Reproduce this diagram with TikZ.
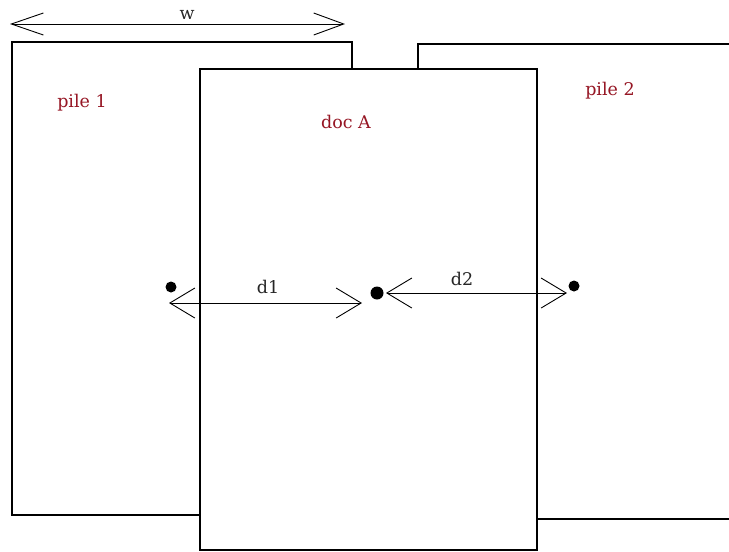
\documentclass[tikz,border=0pt]{standalone}
\usepackage{fontspec}
\setmainfont{DejaVu Serif}
\usetikzlibrary{arrows.meta}
\definecolor{labelred}{RGB}{150,22,36}
\begin{document}
\begin{tikzpicture}[x=1pt,y=-1pt,
  sheet/.style={draw, fill=white, line width=1.1pt, inner sep=0pt, outer sep=0pt, anchor=north west},
  lbl/.style={text=labelred, font=\fontsize{17.5}{17.5}\selectfont, inner sep=0pt},
  dimlbl/.style={text=black!85, font=\fontsize{17.5}{17.5}\selectfont, inner sep=0pt},
  dot/.style={circle, fill=black, inner sep=0pt, minimum size=10pt},
  measure/.style={line width=0.9pt, {Straight Barb[length=25pt,width=30pt]}-{Straight Barb[length=25pt,width=30pt]}},
  widthbar/.style={line width=0.9pt, {Straight Barb[length=32pt,width=22pt]}-{Straight Barb[length=30pt,width=22pt]}}
]
\useasboundingbox (0,0) rectangle (729,552);
\clip (0,0) rectangle (729,552);

% the two piles behind the document
\node[sheet, minimum width=340pt, minimum height=473pt] (pile1) at (12,42) {};
\node[sheet, minimum width=360pt, minimum height=475pt] (pile2) at (418,44) {};
% the document in front
\node[sheet, minimum width=337pt, minimum height=481pt] (docA) at (200,69) {};

% labels
\node[lbl] (pile1lbl) at (82,103) {pile 1};
\node[lbl] (docAlbl) at (346,122) {doc A};
\node[lbl] (pile2lbl) at (610,91) {pile 2};

% centre points
\node[dot, minimum size=11pt] (c1) at (171,287) {};
\node[dot, minimum size=13pt] (cA) at (377,293) {};
\node[dot, minimum size=11pt] (c2) at (574,286) {};

% width of a pile
\coordinate (wl) at (10,24);
\coordinate (wr) at (345,24);
\draw[widthbar] (wl) -- (wr);
\node[dimlbl] (wlbl) at (187,15) {w};

% distances between centres
\coordinate (d1l) at (169,303);
\coordinate (d1r) at (362,303);
\draw[measure] (d1l) -- (d1r);
\node[dimlbl] (d1lbl) at (268,287) {d1};

\coordinate (d2l) at (386,293);
\coordinate (d2r) at (567,293);
\draw[measure] (d2l) -- (d2r);
\node[dimlbl] (d2lbl) at (462,279) {d2};
\end{tikzpicture}
\end{document}
